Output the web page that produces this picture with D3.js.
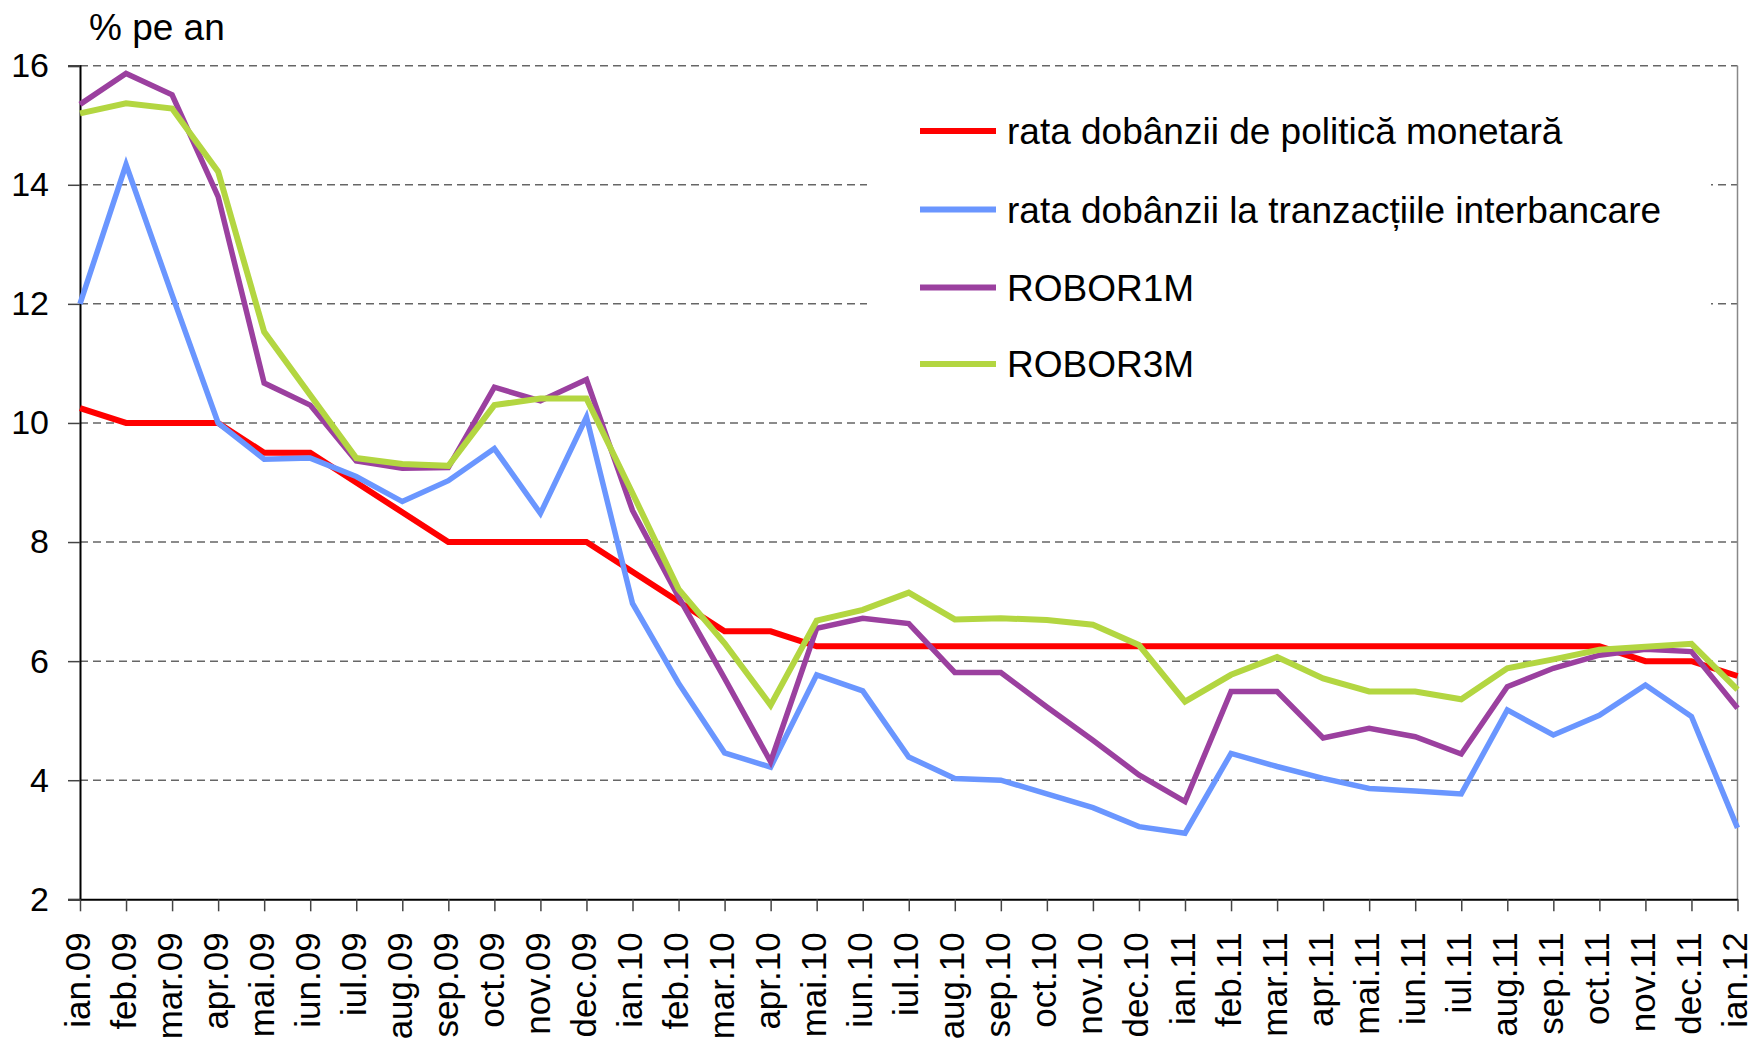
<!DOCTYPE html>
<html>
<head>
<meta charset="utf-8">
<script src="https://cdn.jsdelivr.net/npm/d3@7"></script>
<style>
  html, body { margin: 0; padding: 0; background: #fff; }
  svg { display: block; font-family: "Liberation Sans", Arial, sans-serif; }
</style>
</head>
<body>
<svg id="chart" width="1754" height="1041"></svg>
<script>
const categories = ["ian.09","feb.09","mar.09","apr.09","mai.09","iun.09","iul.09","aug.09","sep.09","oct.09","nov.09","dec.09",
  "ian.10","feb.10","mar.10","apr.10","mai.10","iun.10","iul.10","aug.10","sep.10","oct.10","nov.10","dec.10",
  "ian.11","feb.11","mar.11","apr.11","mai.11","iun.11","iul.11","aug.11","sep.11","oct.11","nov.11","dec.11",
  "ian.12"];

const policyRate = [10.25,10,10,10,9.5,9.5,9,8.5,8,8,8,8,
  7.5,7,6.5,6.5,6.25,6.25,6.25,6.25,6.25,6.25,6.25,6.25,
  6.25,6.25,6.25,6.25,6.25,6.25,6.25,6.25,6.25,6.25,6,6,
  5.75];

const interbankRate = [12.0,14.34,12.15,10.0,9.39,9.41,9.10,8.68,9.03,9.57,8.48,10.1,
  6.97,5.63,4.46,4.22,5.77,5.50,4.39,4.03,4.0,3.77,3.54,3.22,
  3.11,4.45,4.23,4.03,3.86,3.82,3.77,5.18,4.76,5.09,5.60,5.07,
  3.2];

const robor1m = [15.35,15.87,15.51,13.80,10.67,10.30,9.36,9.24,9.25,10.60,10.37,10.73,
  8.53,7.08,5.71,4.31,6.55,6.72,6.63,5.81,5.81,5.23,4.67,4.09,
  3.64,5.49,5.49,4.71,4.87,4.73,4.44,5.57,5.88,6.10,6.20,6.16,
  5.21];

const robor3m = [15.20,15.37,15.28,14.22,11.53,10.47,9.41,9.31,9.28,10.30,10.41,10.41,
  8.82,7.21,6.30,5.26,6.68,6.86,7.15,6.70,6.72,6.69,6.61,6.27,
  5.32,5.77,6.07,5.71,5.49,5.49,5.36,5.88,6.03,6.19,6.24,6.29,
  5.52];

const seriesNames = ["rata dobânzii de politică monetară", "rata dobânzii la tranzacțiile interbancare", "ROBOR1M", "ROBOR3M"];
const seriesColors = ["#FF0000", "#6A96FF", "#9B409F", "#B3D641"];
const yTicks = [2,4,6,8,10,12,14,16];
const yTitle = "% pe an";

const seriesData = [policyRate, interbankRate, robor1m, robor3m];

(function () {
const svg = d3.select("#chart");
const pLeft = 80, pRight = 1737.5, pTop = 65.7, pBottom = 899.3;

const x = d3.scalePoint().domain(categories).range([pLeft, pRight]);
const y = d3.scaleLinear().domain([2, 16]).range([pBottom, pTop]);

// gridlines
svg.append("g").selectAll("line")
  .data(yTicks.filter(d => d > 2))
  .join("line")
  .attr("x1", pLeft).attr("x2", pRight)
  .attr("y1", d => y(d)).attr("y2", d => y(d))
  .attr("stroke", "#666").attr("stroke-width", 1.5)
  .attr("stroke-dasharray", "8,5");

// right border
svg.append("line")
  .attr("x1", pRight).attr("x2", pRight).attr("y1", pTop).attr("y2", pBottom)
  .attr("stroke", "#888").attr("stroke-width", 1.5);

// legend background box (hides gridlines)
svg.append("rect")
  .attr("x", 867).attr("y", 88).attr("width", 844).attr("height", 305)
  .attr("fill", "#fff");

// y axis
const yAxis = svg.append("g")
  .attr("transform", `translate(${pLeft},0)`)
  .call(d3.axisLeft(y).tickValues(yTicks).tickSize(12).tickPadding(19).tickFormat(d3.format("d")));
yAxis.select(".domain").attr("stroke", "#000").attr("stroke-width", 2);
yAxis.selectAll(".tick line").attr("stroke", "#444").attr("stroke-width", 1.5);
yAxis.selectAll(".tick text").attr("font-size", 34).attr("fill", "#000")
  .attr("font-family", "Liberation Sans, Arial, sans-serif");

// x axis
const xAxis = svg.append("g")
  .attr("transform", `translate(0,${pBottom})`)
  .call(d3.axisBottom(x).tickSize(12).tickSizeOuter(0));
xAxis.select(".domain").attr("stroke", "#000").attr("stroke-width", 2);
xAxis.selectAll(".tick line").attr("stroke", "#444").attr("stroke-width", 1.5);
xAxis.selectAll(".tick text")
  .attr("font-size", 35).attr("fill", "#000")
  .attr("font-family", "Liberation Sans, Arial, sans-serif")
  .attr("x", null).attr("y", null).attr("dy", null)
  .attr("text-anchor", "end")
  .attr("transform", "translate(9,33) rotate(-90)");

// lines
const widths = [6, 5.5, 5.5, 6];
const line = d3.line().x((d, i) => x(categories[i])).y(d => y(d)).curve(d3.curveLinear);
svg.append("g").selectAll("path")
  .data(seriesData)
  .join("path")
  .attr("d", d => line(d))
  .attr("fill", "none")
  .attr("stroke", (d, i) => seriesColors[i])
  .attr("stroke-width", (d, i) => widths[i])
  .attr("stroke-linejoin", "miter")
  .attr("stroke-linecap", "butt");

// legend
const legendRows = [131, 209.5, 287.5, 364];
const lg = svg.append("g").selectAll("g")
  .data(seriesNames)
  .join("g")
  .attr("transform", (d, i) => `translate(0,${legendRows[i]})`);
lg.append("line")
  .attr("x1", 920).attr("x2", 996).attr("y1", 0).attr("y2", 0)
  .attr("stroke", (d, i) => seriesColors[i]).attr("stroke-width", 6);
lg.append("text")
  .attr("x", 1007).attr("dy", "0.36em")
  .attr("font-size", 37).attr("fill", "#000")
  .text(d => d);

// y title
svg.append("text")
  .attr("x", 89).attr("y", 40)
  .attr("font-size", 37).attr("fill", "#000")
  .text(yTitle);
})();
</script>
</body>
</html>
